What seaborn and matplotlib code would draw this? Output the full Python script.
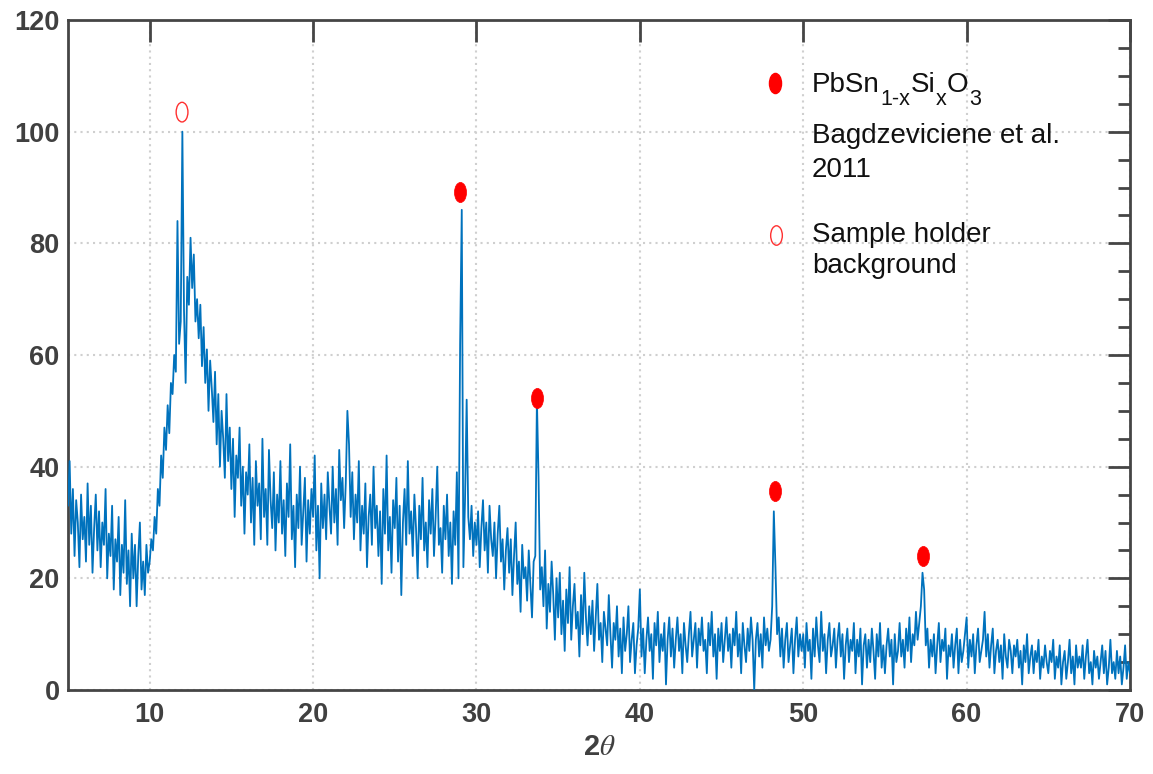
import numpy as np
import matplotlib
matplotlib.use('Agg')
import matplotlib.pyplot as plt
from matplotlib.path import Path
from matplotlib.transforms import Affine2D
from matplotlib.ticker import MultipleLocator
import seaborn as sns

# XRD scan, 2theta from 5 to 70 deg in 0.1 deg steps
two_theta = np.round(np.arange(5.0, 70.05, 0.1), 1)

counts_05_20 = [
    33, 41, 28, 36, 24, 34, 30, 22, 35, 27,
    31, 23, 37, 26, 33, 21, 29, 35, 25, 32,
    22, 30, 26, 36, 20, 28, 24, 33, 18, 27,
    23, 31, 17, 26, 21, 34, 19, 25, 15, 28,
    20, 26, 15, 24, 30, 18, 23, 17, 26, 21,
    23, 27, 25, 31, 28, 36, 33, 42, 38, 47,
    43, 51, 46, 55, 53, 60, 57, 84, 62, 66,
    100, 68, 55, 74, 69, 81, 72, 78, 66, 70,
    63, 69, 58, 65, 55, 61, 50, 59, 54, 48,
    57, 44, 53, 40, 50, 45, 38, 53, 41, 47,
    36, 45, 31, 42, 38, 47, 33, 40, 28, 39,
    35, 44, 30, 38, 26, 41, 33, 37, 27, 45,
    31, 36, 26, 43, 34, 29, 39, 25, 35, 30,
    41, 28, 34, 24, 37, 31, 44, 27, 33, 22,
    35, 29, 40, 26, 32, 38, 23, 34, 28, 36,
]
counts_20_35 = [
    31, 42, 25, 33, 20, 37, 29, 35, 27, 39,
    33, 28, 40, 30, 36, 26, 43, 34, 38, 29,
    37, 50, 44, 31, 39, 27, 35, 30, 41, 25,
    33, 28, 37, 22, 31, 35, 26, 40, 29, 33,
    24, 32, 19, 36, 28, 42, 25, 31, 21, 34,
    29, 38, 23, 33, 17, 30, 36, 26, 41, 28,
    32, 24, 35, 29, 20, 33, 27, 38, 25, 30,
    22, 34, 28, 36, 24, 31, 40, 26, 29, 21,
    33, 27, 35, 24, 30, 19, 32, 26, 39, 20,
    62, 86, 22, 34, 52, 31, 27, 33, 24, 30,
    26, 32, 22, 29, 34, 25, 30, 21, 33, 27,
    24, 30, 20, 28, 33, 23, 27, 18, 25, 29,
    21, 27, 17, 24, 30, 19, 23, 14, 26, 20,
    22, 16, 25, 19, 13, 23, 24, 52, 38, 18,
    22, 15, 25, 11, 19, 14, 23, 17, 9, 20,
]
counts_35_50 = [
    13, 21, 10, 16, 7, 18, 12, 22, 9, 15,
    19, 11, 14, 6, 17, 10, 21, 13, 8, 15,
    10, 16, 7, 13, 19, 9, 12, 5, 14, 11,
    8, 17, 10, 4, 12, 9, 15, 6, 11, 3,
    13, 7, 10, 15, 5, 9, 12, 3, 8, 11,
    18, 6, 11, 3, 9, 13, 7, 10, 2, 12,
    8, 14, 5, 10, 7, 12, 1, 9, 13, 6,
    11, 4, 9, 13, 7, 10, 3, 12, 8, 5,
    10, 14, 6, 9, 12, 4, 11, 8, 13, 7,
    9, 3, 12, 8, 14, 6, 10, 2, 11, 7,
    12, 5, 9, 13, 7, 10, 4, 11, 8, 14,
    6, 10, 3, 12, 8, 5, 11, 7, 13, 9,
    0, 9, 12, 6, 10, 4, 13, 8, 11, 7,
    9, 15, 32, 22, 10, 13, 6, 11, 4, 9,
    12, 5, 8, 11, 3, 9, 13, 6, 10, 7,
]
counts_50_70 = [
    10, 4, 12, 7, 9, 2, 11, 6, 13, 8,
    5, 14, 7, 10, 3, 9, 12, 6, 8, 11,
    4, 9, 12, 6, 10, 2, 8, 11, 5, 9,
    7, 12, 3, 9, 6, 11, 1, 8, 10, 4,
    9, 5, 11, 7, 2, 10, 6, 12, 4, 8,
    3, 8, 11, 6, 9, 1, 10, 5, 7, 12,
    6, 9, 4, 11, 7, 13, 5, 10, 8, 14,
    9, 12, 15, 21, 18, 8, 11, 4, 9, 6,
    10, 3, 8, 12, 5, 9, 7, 11, 2, 8,
    6, 10, 4, 8, 11, 3, 9, 5, 7, 10,
    13, 4, 9, 6, 10, 3, 8, 11, 5, 7,
    9, 14, 6, 10, 4, 8, 11, 3, 7, 9,
    5, 8, 2, 10, 6, 4, 9, 7, 3, 8,
    6, 9, 4, 7, 1, 8, 5, 10, 3, 6,
    8, 3, 7, 5, 9, 2, 6, 4, 8, 5,
    3, 7, 5, 9, 2, 6, 4, 8, 1, 5,
    7, 2, 5, 9, 3, 6, 1, 8, 4, 6,
    4, 8, 2, 6, 9, 3, 5, 1, 7, 4,
    6, 2, 5, 8, 3, 7, 1, 4, 9, 3,
    5, 2, 7, 3, 6, 1, 4, 8, 2, 5,
    3,
]
intensity = np.array(counts_05_20 + counts_20_35 + counts_35_50 + counts_50_70, dtype=float)

# peak markers
phase_x = [29.0, 33.7, 48.25, 57.3]
phase_y = [89.2, 52.3, 35.6, 24.0]
holder_x = [11.98]
holder_y = [103.5]

# legend text: formula split into (text, is_subscript) pieces, then plain lines
formula_parts = [('PbSn', False), ('1-x', True), ('Si', False), ('x', True), ('O', False), ('3', True)]
legend_lines = ['Bagdzeviciene et al.', '2011', 'Sample holder', 'background']

sns.set_style('white')
plt.rcParams['font.family'] = ['Liberation Sans', 'DejaVu Sans']
plt.rcParams['mathtext.fontset'] = 'stix'

fig = plt.figure(figsize=(11.53, 7.74), dpi=100)
ax = fig.add_axes([68 / 1153, 84 / 774, 1062 / 1153, 670 / 774])

line_blue = '#0072BD'
ink = '#454545'

sns.lineplot(x=two_theta, y=intensity, ax=ax, color=line_blue, linewidth=1.3,
             estimator=None, sort=False, zorder=3)

ellipse = Path.unit_circle().transformed(Affine2D().scale(0.6, 1.0))
sns.scatterplot(x=phase_x, y=phase_y, ax=ax, marker=ellipse, s=210,
                color='#ff0000', edgecolor='#ff0000', linewidth=0.5, zorder=4)
sns.scatterplot(x=holder_x, y=holder_y, ax=ax, marker=ellipse, s=200,
                color='#ff3030', edgecolor='#ff3030', linewidth=1.0, zorder=4)
ax.collections[-1].set_facecolor('none')

ax.set_xlim(5, 70)
ax.set_ylim(0, 120)
ax.xaxis.set_major_locator(MultipleLocator(10))
ax.yaxis.set_major_locator(MultipleLocator(20))
ax.yaxis.set_minor_locator(MultipleLocator(5))

ax.grid(True, which='major', linestyle=(0, (1, 2)), color='#cfcfcf', linewidth=1.5)
ax.set_axisbelow(True)

for s in ax.spines.values():
    s.set_visible(True)
    s.set_color(ink)
    s.set_linewidth(2.0)

ax.tick_params(axis='both', which='both', direction='in', top=True, right=True,
               color=ink, labelcolor='#404040', labelsize=19.5, width=2.0)
ax.tick_params(axis='both', which='major', length=16)
ax.tick_params(axis='both', which='minor', length=8.5)
ax.tick_params(axis='y', pad=6)
ax.tick_params(axis='x', pad=9)
for lab in ax.get_xticklabels() + ax.get_yticklabels():
    lab.set_fontweight('bold')

ax.set_xlabel('2$\\theta$', fontsize=21, fontweight='bold', color='#404040', labelpad=3)
ax.set_ylabel('')

# legend keys
ax.plot([0.6657], [0.906], transform=ax.transAxes, marker=ellipse, markersize=14.5,
        color='#ff0000', linestyle='none', clip_on=False)
ax.plot([0.6667], [0.679], transform=ax.transAxes, marker=ellipse, markersize=14,
        markerfacecolor='none', markeredgecolor='#ff3030', markeredgewidth=1.0,
        linestyle='none', clip_on=False)

# formula line with low, large subscripts (MATLAB tex look)
text_color = '#111111'
prev = ax.text(0.7006, 0.8835, formula_parts[0][0], transform=ax.transAxes,
               fontsize=20, color=text_color, ha='left', va='bottom')
prev_sub = False
for part, is_sub in formula_parts[1:]:
    dy = 0
    if is_sub and not prev_sub:
        dy = -8.3
    elif prev_sub and not is_sub:
        dy = 8.3
    prev = ax.annotate(part, xy=(1, 0), xycoords=prev, xytext=(0.3, dy),
                       textcoords='offset points', fontsize=15.5 if is_sub else 20,
                       color=text_color, ha='left', va='bottom')
    prev_sub = is_sub

for txt, yb in zip(legend_lines, [0.8164, 0.7657, 0.6687, 0.6224]):
    ax.text(0.7006, yb, txt, transform=ax.transAxes, fontsize=20, color=text_color,
            ha='left', va='baseline')

fig.savefig('out.png', dpi=100)
